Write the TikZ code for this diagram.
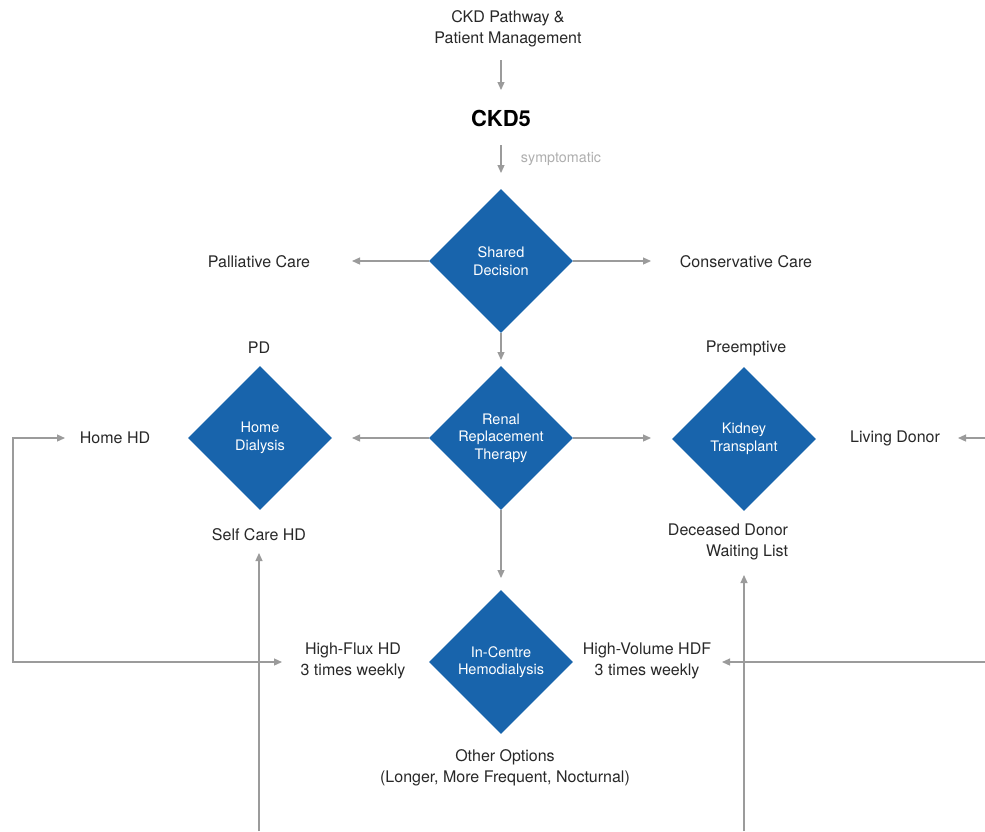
\documentclass[tikz,border=0pt]{standalone}
\usepackage{fontspec}
\setmainfont{TeX Gyre Heros}
\usetikzlibrary{shapes.geometric,arrows.meta}
\definecolor{dblue}{RGB}{24,100,172}
\definecolor{lgray}{RGB}{155,155,155}
\definecolor{tgray}{RGB}{40,40,40}
\definecolor{sgray}{RGB}{175,175,175}
\begin{document}
\begin{tikzpicture}[x=1pt,y=-1pt,
  dia/.style={diamond,aspect=1,fill=dblue,draw=none,minimum width=144pt,minimum height=144pt,inner sep=0pt,text=white,align=center,font=\fontsize{14.5}{17.5}\selectfont},
  lbl/.style={text=tgray,align=center,inner sep=0pt,font=\fontsize{16}{21.5}\selectfont},
  arr/.style={draw=lgray,line width=1.2pt,-{Triangle[length=8pt,width=7pt]}},
  dbl/.style={draw=lgray,line width=1.2pt,{Triangle[length=8pt,width=7pt]}-{Triangle[length=8pt,width=7pt]}}]
\useasboundingbox[fill=white] (0,0) rectangle (985,831);

% text nodes
\node[lbl] (title) at (508,29) {CKD Pathway \&\\Patient Management};
\node[inner sep=0pt,font=\fontsize{22}{26}\selectfont\bfseries,text=black] (ckd5) at (501,118) {CKD5};
\node[inner sep=0pt,text=sgray,font=\fontsize{14.3}{17}\selectfont] (symp) at (561,159) {symptomatic};

% diamonds
\node[dia] (sd) at (501,261) {Shared\\Decision};
\node[dia] (rrt) at (501,438) {Renal\\Replacement\\Therapy};
\node[dia] (hd) at (260,438) {Home\\Dialysis};
\node[dia] (kt) at (744,439) {Kidney\\Transplant};
\node[dia] (ic) at (501,662) {In-Centre\\Hemodialysis};

% labels
\node[lbl] (pal) at (259,262) {Palliative Care};
\node[lbl] (cons) at (746,262) {Conservative Care};
\node[lbl] (pd) at (259,348) {PD};
\node[lbl] (pre) at (746,348) {Preemptive};
\node[lbl] (homehd) at (115,438) {Home HD};
\node[lbl] (living) at (895,438) {Living Donor};
\node[lbl] (self) at (259,535) {Self Care HD};
\node[lbl,align=right] (ddwl) at (728,542) {Deceased Donor\\Waiting List};
\node[lbl] (hf) at (353,661) {High-Flux HD\\3 times weekly};
\node[lbl] (hv) at (647,661) {High-Volume HDF\\3 times weekly};
\node[lbl] (other) at (505,768) {Other Options\\(Longer, More Frequent, Nocturnal)};

% coordinates for arrow ends
\coordinate (t1) at (501,60);
\coordinate (t2) at (501,90);
\coordinate (c1) at (501,145);
\coordinate (c2) at (501,173);
\coordinate (palE) at (352,261);
\coordinate (consW) at (651,261);
\coordinate (rrtN) at (501,360);
\coordinate (hdE) at (352,438);
\coordinate (ktW) at (651,438);
\coordinate (icN) at (501,578);
\coordinate (homeW) at (65,438);
\coordinate (lc1) at (13,438);
\coordinate (lc2) at (13,662);
\coordinate (hfW) at (282,662);
\coordinate (rin1) at (985,438);
\coordinate (livE) at (958,438);
\coordinate (rin2) at (985,662);
\coordinate (hvE) at (722,662);
\coordinate (b1) at (259,831);
\coordinate (selfS) at (259,553);
\coordinate (b2) at (744,831);
\coordinate (ddwlS) at (744,575);

% connectors
\draw[arr] (t1) -- (t2);
\draw[arr] (c1) -- (c2);
\draw[arr] (sd.west) -- (palE);
\draw[arr] (sd.east) -- (consW);
\draw[arr] (sd.south) -- (rrtN);
\draw[arr] (rrt.west) -- (hdE);
\draw[arr] (rrt.east) -- (ktW);
\draw[arr] (rrt.south) -- (icN);
\draw[dbl] (homeW) -- (lc1) -- (lc2) -- (hfW);
\draw[arr] (rin1) -- (livE);
\draw[arr] (rin2) -- (hvE);
\draw[arr] (b1) -- (selfS);
\draw[arr] (b2) -- (ddwlS);
\end{tikzpicture}
\end{document}
